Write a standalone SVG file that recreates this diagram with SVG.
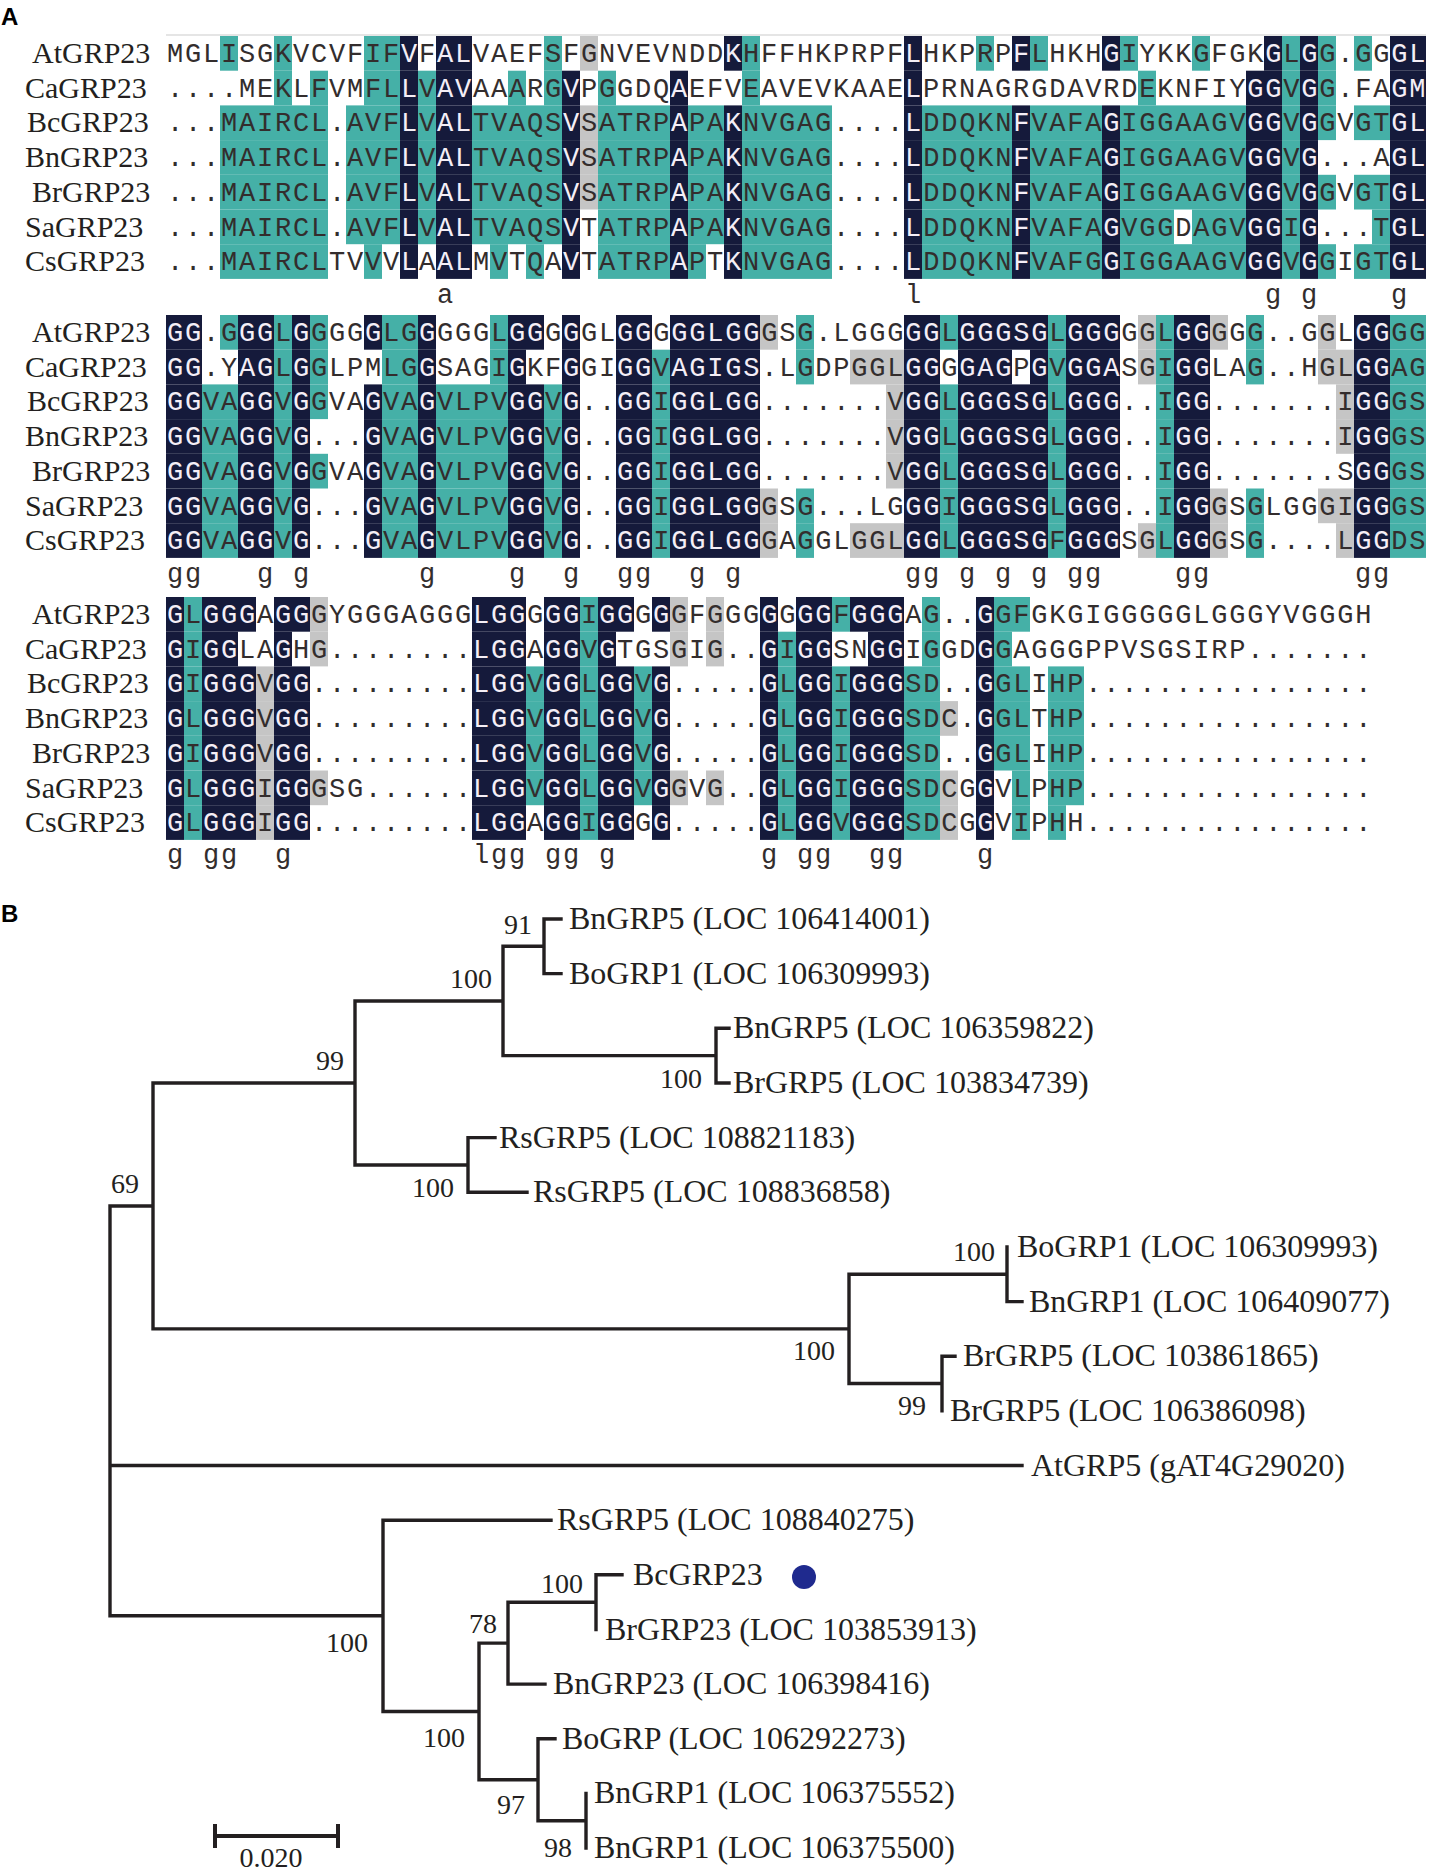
<svg xmlns="http://www.w3.org/2000/svg" width="1437" height="1871" viewBox="0 0 1437 1871">
<style>
.d{fill:#151a3b}.t{fill:#45b0a7}.g{fill:#c5c5c5}
.s{font-family:"Liberation Mono","DejaVu Sans Mono",monospace;font-size:27px;letter-spacing:1.8px;fill:#332d2d}
.l{fill:#f4eef6}
.n{font-family:"Liberation Serif","Times New Roman",serif;font-size:30px;fill:#231f20}
.lb{font-family:"Liberation Serif","Times New Roman",serif;font-size:32px;fill:#231f20}
.bs{font-family:"Liberation Serif","Times New Roman",serif;font-size:28px;fill:#231f20;text-anchor:end}
.pl{font-family:"Liberation Sans",Arial,sans-serif;font-weight:700;font-size:24px;fill:#000}
.br{fill:none;stroke:#231f20;stroke-width:3.4;stroke-linecap:square}
</style>
<rect width="1437" height="1871" fill="#fff"/>
<g id="panel-a">
<text class="pl" x="1" y="25">A</text>
<line x1="166" y1="35" x2="1426" y2="35" stroke="#dddddd" stroke-width="1.5"/>
<g id="block1">
<g id="b1-AtGRP23" transform="translate(0,36)">
<rect class="t" x="220" width="18" height="34.7"/><rect class="t" x="274" width="18" height="34.7"/><rect class="t" x="364" width="36" height="34.7"/><rect class="d" x="400" width="18" height="34.7"/><rect class="d" x="436" width="36" height="34.7"/><rect class="t" x="544" width="18" height="34.7"/><rect class="g" x="580" width="18" height="34.7"/><rect class="d" x="724" width="18" height="34.7"/><rect class="t" x="742" width="18" height="34.7"/><rect class="d" x="904" width="18" height="34.7"/><rect class="t" x="976" width="18" height="34.7"/><rect class="d" x="1012" width="18" height="34.7"/><rect class="t" x="1030" width="18" height="34.7"/><rect class="d" x="1102" width="18" height="34.7"/><rect class="t" x="1120" width="18" height="34.7"/><rect class="t" x="1192" width="18" height="34.7"/><rect class="d" x="1264" width="18" height="34.7"/><rect class="t" x="1282" width="18" height="34.7"/><rect class="d" x="1300" width="18" height="34.7"/><rect class="t" x="1318" width="18" height="34.7"/><rect class="t" x="1354" width="18" height="34.7"/><rect class="d" x="1390" width="36" height="34.7"/>
<text class="n" x="32" y="27">AtGRP23</text>
<text class="s" x="166.9" y="26">MGLISGKVCVFIF<tspan class="l">V</tspan>F<tspan class="l">AL</tspan>VAEFSFGNVEVNDD<tspan class="l">K</tspan>HFFHKPRPF<tspan class="l">L</tspan>HKPRP<tspan class="l">F</tspan>LHKH<tspan class="l">G</tspan>IYKKGFGK<tspan class="l">G</tspan>L<tspan class="l">G</tspan>G.GG<tspan class="l">GL</tspan></text>
</g>
<g id="b1-CaGRP23" transform="translate(0,70.7)">
<rect class="t" x="274" width="18" height="34.7"/><rect class="t" x="310" width="18" height="34.7"/><rect class="t" x="364" width="36" height="34.7"/><rect class="d" x="400" width="18" height="34.7"/><rect class="t" x="418" width="18" height="34.7"/><rect class="d" x="436" width="36" height="34.7"/><rect class="t" x="508" width="18" height="34.7"/><rect class="t" x="544" width="18" height="34.7"/><rect class="d" x="562" width="18" height="34.7"/><rect class="t" x="598" width="18" height="34.7"/><rect class="d" x="670" width="18" height="34.7"/><rect class="t" x="742" width="18" height="34.7"/><rect class="d" x="904" width="18" height="34.7"/><rect class="t" x="1138" width="18" height="34.7"/><rect class="d" x="1246" width="36" height="34.7"/><rect class="t" x="1282" width="18" height="34.7"/><rect class="d" x="1300" width="18" height="34.7"/><rect class="t" x="1318" width="18" height="34.7"/><rect class="d" x="1390" width="36" height="34.7"/>
<text class="n" x="25" y="27">CaGRP23</text>
<text class="s" x="166.9" y="26">....MEKLFVMFL<tspan class="l">L</tspan>V<tspan class="l">AV</tspan>AAARG<tspan class="l">V</tspan>PGGDQ<tspan class="l">A</tspan>EFVEAVEVKAAE<tspan class="l">L</tspan>PRNAGRGDAVRDEKNFIY<tspan class="l">GG</tspan>V<tspan class="l">G</tspan>G.FA<tspan class="l">GM</tspan></text>
</g>
<g id="b1-BcGRP23" transform="translate(0,105.4)">
<rect class="t" x="220" width="108" height="34.7"/><rect class="t" x="346" width="54" height="34.7"/><rect class="d" x="400" width="18" height="34.7"/><rect class="t" x="418" width="18" height="34.7"/><rect class="d" x="436" width="36" height="34.7"/><rect class="t" x="472" width="90" height="34.7"/><rect class="d" x="562" width="18" height="34.7"/><rect class="g" x="580" width="18" height="34.7"/><rect class="t" x="598" width="72" height="34.7"/><rect class="d" x="670" width="18" height="34.7"/><rect class="t" x="688" width="36" height="34.7"/><rect class="d" x="724" width="18" height="34.7"/><rect class="t" x="742" width="90" height="34.7"/><rect class="d" x="904" width="18" height="34.7"/><rect class="t" x="922" width="90" height="34.7"/><rect class="d" x="1012" width="18" height="34.7"/><rect class="t" x="1030" width="72" height="34.7"/><rect class="d" x="1102" width="18" height="34.7"/><rect class="t" x="1120" width="126" height="34.7"/><rect class="d" x="1246" width="36" height="34.7"/><rect class="t" x="1282" width="18" height="34.7"/><rect class="d" x="1300" width="18" height="34.7"/><rect class="t" x="1318" width="18" height="34.7"/><rect class="t" x="1354" width="36" height="34.7"/><rect class="d" x="1390" width="36" height="34.7"/>
<text class="n" x="27" y="27">BcGRP23</text>
<text class="s" x="166.9" y="26">...MAIRCL.AVF<tspan class="l">L</tspan>V<tspan class="l">AL</tspan>TVAQS<tspan class="l">V</tspan>SATRP<tspan class="l">A</tspan>PA<tspan class="l">K</tspan>NVGAG....<tspan class="l">L</tspan>DDQKN<tspan class="l">F</tspan>VAFA<tspan class="l">G</tspan>IGGAAGV<tspan class="l">GG</tspan>V<tspan class="l">G</tspan>GVGT<tspan class="l">GL</tspan></text>
</g>
<g id="b1-BnGRP23" transform="translate(0,140.1)">
<rect class="t" x="220" width="108" height="34.7"/><rect class="t" x="346" width="54" height="34.7"/><rect class="d" x="400" width="18" height="34.7"/><rect class="t" x="418" width="18" height="34.7"/><rect class="d" x="436" width="36" height="34.7"/><rect class="t" x="472" width="90" height="34.7"/><rect class="d" x="562" width="18" height="34.7"/><rect class="g" x="580" width="18" height="34.7"/><rect class="t" x="598" width="72" height="34.7"/><rect class="d" x="670" width="18" height="34.7"/><rect class="t" x="688" width="36" height="34.7"/><rect class="d" x="724" width="18" height="34.7"/><rect class="t" x="742" width="90" height="34.7"/><rect class="d" x="904" width="18" height="34.7"/><rect class="t" x="922" width="90" height="34.7"/><rect class="d" x="1012" width="18" height="34.7"/><rect class="t" x="1030" width="72" height="34.7"/><rect class="d" x="1102" width="18" height="34.7"/><rect class="t" x="1120" width="126" height="34.7"/><rect class="d" x="1246" width="36" height="34.7"/><rect class="t" x="1282" width="18" height="34.7"/><rect class="d" x="1300" width="18" height="34.7"/><rect class="d" x="1390" width="36" height="34.7"/>
<text class="n" x="25" y="27">BnGRP23</text>
<text class="s" x="166.9" y="26">...MAIRCL.AVF<tspan class="l">L</tspan>V<tspan class="l">AL</tspan>TVAQS<tspan class="l">V</tspan>SATRP<tspan class="l">A</tspan>PA<tspan class="l">K</tspan>NVGAG....<tspan class="l">L</tspan>DDQKN<tspan class="l">F</tspan>VAFA<tspan class="l">G</tspan>IGGAAGV<tspan class="l">GG</tspan>V<tspan class="l">G</tspan>...A<tspan class="l">GL</tspan></text>
</g>
<g id="b1-BrGRP23" transform="translate(0,174.8)">
<rect class="t" x="220" width="108" height="34.7"/><rect class="t" x="346" width="54" height="34.7"/><rect class="d" x="400" width="18" height="34.7"/><rect class="t" x="418" width="18" height="34.7"/><rect class="d" x="436" width="36" height="34.7"/><rect class="t" x="472" width="90" height="34.7"/><rect class="d" x="562" width="18" height="34.7"/><rect class="g" x="580" width="18" height="34.7"/><rect class="t" x="598" width="72" height="34.7"/><rect class="d" x="670" width="18" height="34.7"/><rect class="t" x="688" width="36" height="34.7"/><rect class="d" x="724" width="18" height="34.7"/><rect class="t" x="742" width="90" height="34.7"/><rect class="d" x="904" width="18" height="34.7"/><rect class="t" x="922" width="90" height="34.7"/><rect class="d" x="1012" width="18" height="34.7"/><rect class="t" x="1030" width="72" height="34.7"/><rect class="d" x="1102" width="18" height="34.7"/><rect class="t" x="1120" width="126" height="34.7"/><rect class="d" x="1246" width="36" height="34.7"/><rect class="t" x="1282" width="18" height="34.7"/><rect class="d" x="1300" width="18" height="34.7"/><rect class="t" x="1318" width="18" height="34.7"/><rect class="t" x="1354" width="36" height="34.7"/><rect class="d" x="1390" width="36" height="34.7"/>
<text class="n" x="32" y="27">BrGRP23</text>
<text class="s" x="166.9" y="26">...MAIRCL.AVF<tspan class="l">L</tspan>V<tspan class="l">AL</tspan>TVAQS<tspan class="l">V</tspan>SATRP<tspan class="l">A</tspan>PA<tspan class="l">K</tspan>NVGAG....<tspan class="l">L</tspan>DDQKN<tspan class="l">F</tspan>VAFA<tspan class="l">G</tspan>IGGAAGV<tspan class="l">GG</tspan>V<tspan class="l">G</tspan>GVGT<tspan class="l">GL</tspan></text>
</g>
<g id="b1-SaGRP23" transform="translate(0,209.5)">
<rect class="t" x="220" width="108" height="34.7"/><rect class="t" x="346" width="54" height="34.7"/><rect class="d" x="400" width="18" height="34.7"/><rect class="t" x="418" width="18" height="34.7"/><rect class="d" x="436" width="36" height="34.7"/><rect class="t" x="472" width="90" height="34.7"/><rect class="d" x="562" width="18" height="34.7"/><rect class="t" x="598" width="72" height="34.7"/><rect class="d" x="670" width="18" height="34.7"/><rect class="t" x="688" width="36" height="34.7"/><rect class="d" x="724" width="18" height="34.7"/><rect class="t" x="742" width="90" height="34.7"/><rect class="d" x="904" width="18" height="34.7"/><rect class="t" x="922" width="90" height="34.7"/><rect class="d" x="1012" width="18" height="34.7"/><rect class="t" x="1030" width="72" height="34.7"/><rect class="d" x="1102" width="18" height="34.7"/><rect class="t" x="1120" width="54" height="34.7"/><rect class="t" x="1192" width="54" height="34.7"/><rect class="d" x="1246" width="36" height="34.7"/><rect class="t" x="1282" width="18" height="34.7"/><rect class="d" x="1300" width="18" height="34.7"/><rect class="t" x="1372" width="18" height="34.7"/><rect class="d" x="1390" width="36" height="34.7"/>
<text class="n" x="25" y="27">SaGRP23</text>
<text class="s" x="166.9" y="26">...MAIRCL.AVF<tspan class="l">L</tspan>V<tspan class="l">AL</tspan>TVAQS<tspan class="l">V</tspan>TATRP<tspan class="l">A</tspan>PA<tspan class="l">K</tspan>NVGAG....<tspan class="l">L</tspan>DDQKN<tspan class="l">F</tspan>VAFA<tspan class="l">G</tspan>VGGDAGV<tspan class="l">GG</tspan>I<tspan class="l">G</tspan>...T<tspan class="l">GL</tspan></text>
</g>
<g id="b1-CsGRP23" transform="translate(0,244.2)">
<rect class="t" x="220" width="108" height="34.7"/><rect class="t" x="364" width="18" height="34.7"/><rect class="d" x="400" width="18" height="34.7"/><rect class="d" x="436" width="36" height="34.7"/><rect class="t" x="490" width="18" height="34.7"/><rect class="t" x="526" width="18" height="34.7"/><rect class="d" x="562" width="18" height="34.7"/><rect class="t" x="598" width="72" height="34.7"/><rect class="d" x="670" width="18" height="34.7"/><rect class="t" x="688" width="18" height="34.7"/><rect class="d" x="724" width="18" height="34.7"/><rect class="t" x="742" width="90" height="34.7"/><rect class="d" x="904" width="18" height="34.7"/><rect class="t" x="922" width="90" height="34.7"/><rect class="d" x="1012" width="18" height="34.7"/><rect class="t" x="1030" width="72" height="34.7"/><rect class="d" x="1102" width="18" height="34.7"/><rect class="t" x="1120" width="126" height="34.7"/><rect class="d" x="1246" width="36" height="34.7"/><rect class="t" x="1282" width="18" height="34.7"/><rect class="d" x="1300" width="18" height="34.7"/><rect class="t" x="1318" width="18" height="34.7"/><rect class="t" x="1354" width="36" height="34.7"/><rect class="d" x="1390" width="36" height="34.7"/>
<text class="n" x="25" y="27">CsGRP23</text>
<text class="s" x="166.9" y="26">...MAIRCLTVVV<tspan class="l">L</tspan>A<tspan class="l">AL</tspan>MVTQA<tspan class="l">V</tspan>TATRP<tspan class="l">A</tspan>PT<tspan class="l">K</tspan>NVGAG....<tspan class="l">L</tspan>DDQKN<tspan class="l">F</tspan>VAFG<tspan class="l">G</tspan>IGGAAGV<tspan class="l">GG</tspan>V<tspan class="l">G</tspan>GIGT<tspan class="l">GL</tspan></text>
</g>
<text id="b1-consensus" class="s" x="436.9 904.9 1264.9 1300.9 1390.9" y="303">alggg</text>
</g>
<g id="block2">
<g id="b2-AtGRP23" transform="translate(0,315)">
<rect class="d" x="166" width="36" height="34.7"/><rect class="t" x="220" width="18" height="34.7"/><rect class="d" x="238" width="36" height="34.7"/><rect class="t" x="274" width="18" height="34.7"/><rect class="d" x="292" width="18" height="34.7"/><rect class="t" x="310" width="18" height="34.7"/><rect class="d" x="364" width="18" height="34.7"/><rect class="t" x="382" width="36" height="34.7"/><rect class="d" x="418" width="18" height="34.7"/><rect class="t" x="490" width="18" height="34.7"/><rect class="d" x="508" width="36" height="34.7"/><rect class="d" x="562" width="18" height="34.7"/><rect class="d" x="616" width="36" height="34.7"/><rect class="d" x="670" width="90" height="34.7"/><rect class="g" x="760" width="18" height="34.7"/><rect class="t" x="796" width="18" height="34.7"/><rect class="d" x="904" width="36" height="34.7"/><rect class="t" x="940" width="18" height="34.7"/><rect class="d" x="958" width="90" height="34.7"/><rect class="t" x="1048" width="18" height="34.7"/><rect class="d" x="1066" width="54" height="34.7"/><rect class="g" x="1138" width="18" height="34.7"/><rect class="t" x="1156" width="18" height="34.7"/><rect class="d" x="1174" width="36" height="34.7"/><rect class="g" x="1210" width="18" height="34.7"/><rect class="t" x="1246" width="18" height="34.7"/><rect class="g" x="1318" width="18" height="34.7"/><rect class="d" x="1354" width="36" height="34.7"/><rect class="t" x="1390" width="36" height="34.7"/>
<text class="n" x="32" y="27">AtGRP23</text>
<text class="s" x="166.9" y="26"><tspan class="l">GG</tspan>.G<tspan class="l">GG</tspan>L<tspan class="l">G</tspan>GGG<tspan class="l">G</tspan>LG<tspan class="l">G</tspan>GGGL<tspan class="l">GG</tspan>G<tspan class="l">G</tspan>GL<tspan class="l">GG</tspan>G<tspan class="l">GGLGG</tspan>GSG.LGGG<tspan class="l">GG</tspan>L<tspan class="l">GGGSG</tspan>L<tspan class="l">GGG</tspan>GGL<tspan class="l">GG</tspan>GGG..GGL<tspan class="l">GG</tspan>GG</text>
</g>
<g id="b2-CaGRP23" transform="translate(0,349.7)">
<rect class="d" x="166" width="36" height="34.7"/><rect class="d" x="238" width="36" height="34.7"/><rect class="t" x="274" width="18" height="34.7"/><rect class="d" x="292" width="18" height="34.7"/><rect class="t" x="310" width="18" height="34.7"/><rect class="t" x="382" width="36" height="34.7"/><rect class="d" x="418" width="18" height="34.7"/><rect class="t" x="490" width="18" height="34.7"/><rect class="d" x="508" width="18" height="34.7"/><rect class="d" x="562" width="18" height="34.7"/><rect class="d" x="616" width="36" height="34.7"/><rect class="t" x="652" width="18" height="34.7"/><rect class="d" x="670" width="90" height="34.7"/><rect class="t" x="796" width="18" height="34.7"/><rect class="g" x="850" width="54" height="34.7"/><rect class="d" x="904" width="36" height="34.7"/><rect class="d" x="958" width="54" height="34.7"/><rect class="d" x="1030" width="18" height="34.7"/><rect class="t" x="1048" width="18" height="34.7"/><rect class="d" x="1066" width="54" height="34.7"/><rect class="g" x="1138" width="18" height="34.7"/><rect class="t" x="1156" width="18" height="34.7"/><rect class="d" x="1174" width="36" height="34.7"/><rect class="t" x="1246" width="18" height="34.7"/><rect class="g" x="1318" width="36" height="34.7"/><rect class="d" x="1354" width="36" height="34.7"/><rect class="t" x="1390" width="36" height="34.7"/>
<text class="n" x="25" y="27">CaGRP23</text>
<text class="s" x="166.9" y="26"><tspan class="l">GG</tspan>.Y<tspan class="l">AG</tspan>L<tspan class="l">G</tspan>GLPMLG<tspan class="l">G</tspan>SAGI<tspan class="l">G</tspan>KF<tspan class="l">G</tspan>GI<tspan class="l">GG</tspan>V<tspan class="l">AGIGS</tspan>.LGDPGGL<tspan class="l">GG</tspan>G<tspan class="l">GAG</tspan>P<tspan class="l">G</tspan>V<tspan class="l">GGA</tspan>SGI<tspan class="l">GG</tspan>LAG..HGL<tspan class="l">GG</tspan>AG</text>
</g>
<g id="b2-BcGRP23" transform="translate(0,384.4)">
<rect class="d" x="166" width="36" height="34.7"/><rect class="t" x="202" width="36" height="34.7"/><rect class="d" x="238" width="36" height="34.7"/><rect class="t" x="274" width="18" height="34.7"/><rect class="d" x="292" width="18" height="34.7"/><rect class="t" x="310" width="18" height="34.7"/><rect class="d" x="364" width="18" height="34.7"/><rect class="t" x="382" width="36" height="34.7"/><rect class="d" x="418" width="18" height="34.7"/><rect class="t" x="436" width="72" height="34.7"/><rect class="d" x="508" width="36" height="34.7"/><rect class="t" x="544" width="18" height="34.7"/><rect class="d" x="562" width="18" height="34.7"/><rect class="d" x="616" width="36" height="34.7"/><rect class="t" x="652" width="18" height="34.7"/><rect class="d" x="670" width="90" height="34.7"/><rect class="g" x="886" width="18" height="34.7"/><rect class="d" x="904" width="36" height="34.7"/><rect class="t" x="940" width="18" height="34.7"/><rect class="d" x="958" width="90" height="34.7"/><rect class="t" x="1048" width="18" height="34.7"/><rect class="d" x="1066" width="54" height="34.7"/><rect class="t" x="1156" width="18" height="34.7"/><rect class="d" x="1174" width="36" height="34.7"/><rect class="g" x="1336" width="18" height="34.7"/><rect class="d" x="1354" width="36" height="34.7"/><rect class="t" x="1390" width="36" height="34.7"/>
<text class="n" x="27" y="27">BcGRP23</text>
<text class="s" x="166.9" y="26"><tspan class="l">GG</tspan>VA<tspan class="l">GG</tspan>V<tspan class="l">G</tspan>GVA<tspan class="l">G</tspan>VA<tspan class="l">G</tspan>VLPV<tspan class="l">GG</tspan>V<tspan class="l">G</tspan>..<tspan class="l">GG</tspan>I<tspan class="l">GGLGG</tspan>.......V<tspan class="l">GG</tspan>L<tspan class="l">GGGSG</tspan>L<tspan class="l">GGG</tspan>..I<tspan class="l">GG</tspan>.......I<tspan class="l">GG</tspan>GS</text>
</g>
<g id="b2-BnGRP23" transform="translate(0,419.1)">
<rect class="d" x="166" width="36" height="34.7"/><rect class="t" x="202" width="36" height="34.7"/><rect class="d" x="238" width="36" height="34.7"/><rect class="t" x="274" width="18" height="34.7"/><rect class="d" x="292" width="18" height="34.7"/><rect class="d" x="364" width="18" height="34.7"/><rect class="t" x="382" width="36" height="34.7"/><rect class="d" x="418" width="18" height="34.7"/><rect class="t" x="436" width="72" height="34.7"/><rect class="d" x="508" width="36" height="34.7"/><rect class="t" x="544" width="18" height="34.7"/><rect class="d" x="562" width="18" height="34.7"/><rect class="d" x="616" width="36" height="34.7"/><rect class="t" x="652" width="18" height="34.7"/><rect class="d" x="670" width="90" height="34.7"/><rect class="g" x="886" width="18" height="34.7"/><rect class="d" x="904" width="36" height="34.7"/><rect class="t" x="940" width="18" height="34.7"/><rect class="d" x="958" width="90" height="34.7"/><rect class="t" x="1048" width="18" height="34.7"/><rect class="d" x="1066" width="54" height="34.7"/><rect class="t" x="1156" width="18" height="34.7"/><rect class="d" x="1174" width="36" height="34.7"/><rect class="g" x="1336" width="18" height="34.7"/><rect class="d" x="1354" width="36" height="34.7"/><rect class="t" x="1390" width="36" height="34.7"/>
<text class="n" x="25" y="27">BnGRP23</text>
<text class="s" x="166.9" y="26"><tspan class="l">GG</tspan>VA<tspan class="l">GG</tspan>V<tspan class="l">G</tspan>...<tspan class="l">G</tspan>VA<tspan class="l">G</tspan>VLPV<tspan class="l">GG</tspan>V<tspan class="l">G</tspan>..<tspan class="l">GG</tspan>I<tspan class="l">GGLGG</tspan>.......V<tspan class="l">GG</tspan>L<tspan class="l">GGGSG</tspan>L<tspan class="l">GGG</tspan>..I<tspan class="l">GG</tspan>.......I<tspan class="l">GG</tspan>GS</text>
</g>
<g id="b2-BrGRP23" transform="translate(0,453.8)">
<rect class="d" x="166" width="36" height="34.7"/><rect class="t" x="202" width="36" height="34.7"/><rect class="d" x="238" width="36" height="34.7"/><rect class="t" x="274" width="18" height="34.7"/><rect class="d" x="292" width="18" height="34.7"/><rect class="t" x="310" width="18" height="34.7"/><rect class="d" x="364" width="18" height="34.7"/><rect class="t" x="382" width="36" height="34.7"/><rect class="d" x="418" width="18" height="34.7"/><rect class="t" x="436" width="72" height="34.7"/><rect class="d" x="508" width="36" height="34.7"/><rect class="t" x="544" width="18" height="34.7"/><rect class="d" x="562" width="18" height="34.7"/><rect class="d" x="616" width="36" height="34.7"/><rect class="t" x="652" width="18" height="34.7"/><rect class="d" x="670" width="90" height="34.7"/><rect class="g" x="886" width="18" height="34.7"/><rect class="d" x="904" width="36" height="34.7"/><rect class="t" x="940" width="18" height="34.7"/><rect class="d" x="958" width="90" height="34.7"/><rect class="t" x="1048" width="18" height="34.7"/><rect class="d" x="1066" width="54" height="34.7"/><rect class="t" x="1156" width="18" height="34.7"/><rect class="d" x="1174" width="36" height="34.7"/><rect class="d" x="1354" width="36" height="34.7"/><rect class="t" x="1390" width="36" height="34.7"/>
<text class="n" x="32" y="27">BrGRP23</text>
<text class="s" x="166.9" y="26"><tspan class="l">GG</tspan>VA<tspan class="l">GG</tspan>V<tspan class="l">G</tspan>GVA<tspan class="l">G</tspan>VA<tspan class="l">G</tspan>VLPV<tspan class="l">GG</tspan>V<tspan class="l">G</tspan>..<tspan class="l">GG</tspan>I<tspan class="l">GGLGG</tspan>.......V<tspan class="l">GG</tspan>L<tspan class="l">GGGSG</tspan>L<tspan class="l">GGG</tspan>..I<tspan class="l">GG</tspan>.......S<tspan class="l">GG</tspan>GS</text>
</g>
<g id="b2-SaGRP23" transform="translate(0,488.5)">
<rect class="d" x="166" width="36" height="34.7"/><rect class="t" x="202" width="36" height="34.7"/><rect class="d" x="238" width="36" height="34.7"/><rect class="t" x="274" width="18" height="34.7"/><rect class="d" x="292" width="18" height="34.7"/><rect class="d" x="364" width="18" height="34.7"/><rect class="t" x="382" width="36" height="34.7"/><rect class="d" x="418" width="18" height="34.7"/><rect class="t" x="436" width="72" height="34.7"/><rect class="d" x="508" width="36" height="34.7"/><rect class="t" x="544" width="18" height="34.7"/><rect class="d" x="562" width="18" height="34.7"/><rect class="d" x="616" width="36" height="34.7"/><rect class="t" x="652" width="18" height="34.7"/><rect class="d" x="670" width="90" height="34.7"/><rect class="g" x="760" width="18" height="34.7"/><rect class="t" x="796" width="18" height="34.7"/><rect class="d" x="904" width="36" height="34.7"/><rect class="t" x="940" width="18" height="34.7"/><rect class="d" x="958" width="90" height="34.7"/><rect class="t" x="1048" width="18" height="34.7"/><rect class="d" x="1066" width="54" height="34.7"/><rect class="t" x="1156" width="18" height="34.7"/><rect class="d" x="1174" width="36" height="34.7"/><rect class="g" x="1210" width="18" height="34.7"/><rect class="t" x="1246" width="18" height="34.7"/><rect class="g" x="1318" width="36" height="34.7"/><rect class="d" x="1354" width="36" height="34.7"/><rect class="t" x="1390" width="36" height="34.7"/>
<text class="n" x="25" y="27">SaGRP23</text>
<text class="s" x="166.9" y="26"><tspan class="l">GG</tspan>VA<tspan class="l">GG</tspan>V<tspan class="l">G</tspan>...<tspan class="l">G</tspan>VA<tspan class="l">G</tspan>VLPV<tspan class="l">GG</tspan>V<tspan class="l">G</tspan>..<tspan class="l">GG</tspan>I<tspan class="l">GGLGG</tspan>GSG...LG<tspan class="l">GG</tspan>I<tspan class="l">GGGSG</tspan>L<tspan class="l">GGG</tspan>..I<tspan class="l">GG</tspan>GSGLGGGI<tspan class="l">GG</tspan>GS</text>
</g>
<g id="b2-CsGRP23" transform="translate(0,523.2)">
<rect class="d" x="166" width="36" height="34.7"/><rect class="t" x="202" width="36" height="34.7"/><rect class="d" x="238" width="36" height="34.7"/><rect class="t" x="274" width="18" height="34.7"/><rect class="d" x="292" width="18" height="34.7"/><rect class="d" x="364" width="18" height="34.7"/><rect class="t" x="382" width="36" height="34.7"/><rect class="d" x="418" width="18" height="34.7"/><rect class="t" x="436" width="72" height="34.7"/><rect class="d" x="508" width="36" height="34.7"/><rect class="t" x="544" width="18" height="34.7"/><rect class="d" x="562" width="18" height="34.7"/><rect class="d" x="616" width="36" height="34.7"/><rect class="t" x="652" width="18" height="34.7"/><rect class="d" x="670" width="90" height="34.7"/><rect class="g" x="760" width="18" height="34.7"/><rect class="t" x="796" width="18" height="34.7"/><rect class="g" x="850" width="54" height="34.7"/><rect class="d" x="904" width="36" height="34.7"/><rect class="t" x="940" width="18" height="34.7"/><rect class="d" x="958" width="90" height="34.7"/><rect class="t" x="1048" width="18" height="34.7"/><rect class="d" x="1066" width="54" height="34.7"/><rect class="g" x="1138" width="18" height="34.7"/><rect class="t" x="1156" width="18" height="34.7"/><rect class="d" x="1174" width="36" height="34.7"/><rect class="g" x="1210" width="18" height="34.7"/><rect class="t" x="1246" width="18" height="34.7"/><rect class="g" x="1336" width="18" height="34.7"/><rect class="d" x="1354" width="36" height="34.7"/><rect class="t" x="1390" width="36" height="34.7"/>
<text class="n" x="25" y="27">CsGRP23</text>
<text class="s" x="166.9" y="26"><tspan class="l">GG</tspan>VA<tspan class="l">GG</tspan>V<tspan class="l">G</tspan>...<tspan class="l">G</tspan>VA<tspan class="l">G</tspan>VLPV<tspan class="l">GG</tspan>V<tspan class="l">G</tspan>..<tspan class="l">GG</tspan>I<tspan class="l">GGLGG</tspan>GAGGLGGL<tspan class="l">GG</tspan>L<tspan class="l">GGGSG</tspan>F<tspan class="l">GGG</tspan>SGL<tspan class="l">GG</tspan>GSG....L<tspan class="l">GG</tspan>DS</text>
</g>
<text id="b2-consensus" class="s" x="166.9 184.9 256.9 292.9 418.9 508.9 562.9 616.9 634.9 688.9 724.9 904.9 922.9 958.9 994.9 1030.9 1066.9 1084.9 1174.9 1192.9 1354.9 1372.9" y="582">gggggggggggggggggggggg</text>
</g>
<g id="block3">
<g id="b3-AtGRP23" transform="translate(0,597)">
<rect class="d" x="166" width="18" height="34.7"/><rect class="t" x="184" width="18" height="34.7"/><rect class="d" x="202" width="54" height="34.7"/><rect class="d" x="274" width="36" height="34.7"/><rect class="g" x="310" width="18" height="34.7"/><rect class="d" x="472" width="54" height="34.7"/><rect class="d" x="544" width="36" height="34.7"/><rect class="t" x="580" width="18" height="34.7"/><rect class="d" x="598" width="36" height="34.7"/><rect class="d" x="652" width="18" height="34.7"/><rect class="g" x="670" width="18" height="34.7"/><rect class="g" x="706" width="18" height="34.7"/><rect class="d" x="760" width="18" height="34.7"/><rect class="d" x="796" width="36" height="34.7"/><rect class="t" x="832" width="18" height="34.7"/><rect class="d" x="850" width="54" height="34.7"/><rect class="t" x="922" width="18" height="34.7"/><rect class="d" x="976" width="18" height="34.7"/><rect class="t" x="994" width="36" height="34.7"/>
<text class="n" x="32" y="27">AtGRP23</text>
<text class="s" x="166.9" y="26"><tspan class="l">G</tspan>L<tspan class="l">GGG</tspan>A<tspan class="l">GG</tspan>GYGGGAGGG<tspan class="l">LGG</tspan>G<tspan class="l">GG</tspan>I<tspan class="l">GG</tspan>G<tspan class="l">G</tspan>GFGGG<tspan class="l">G</tspan>G<tspan class="l">GG</tspan>F<tspan class="l">GGG</tspan>AG..<tspan class="l">G</tspan>GFGKGIGGGGGLGGGYVGGGH</text>
</g>
<g id="b3-CaGRP23" transform="translate(0,631.7)">
<rect class="d" x="166" width="18" height="34.7"/><rect class="t" x="184" width="18" height="34.7"/><rect class="d" x="202" width="36" height="34.7"/><rect class="d" x="274" width="18" height="34.7"/><rect class="g" x="310" width="18" height="34.7"/><rect class="d" x="472" width="54" height="34.7"/><rect class="d" x="544" width="36" height="34.7"/><rect class="t" x="580" width="18" height="34.7"/><rect class="d" x="598" width="18" height="34.7"/><rect class="g" x="670" width="18" height="34.7"/><rect class="g" x="706" width="18" height="34.7"/><rect class="d" x="760" width="18" height="34.7"/><rect class="t" x="778" width="18" height="34.7"/><rect class="d" x="796" width="36" height="34.7"/><rect class="d" x="868" width="36" height="34.7"/><rect class="t" x="922" width="18" height="34.7"/><rect class="d" x="976" width="18" height="34.7"/><rect class="t" x="994" width="18" height="34.7"/>
<text class="n" x="25" y="27">CaGRP23</text>
<text class="s" x="166.9" y="26"><tspan class="l">G</tspan>I<tspan class="l">GG</tspan>LA<tspan class="l">G</tspan>HG........<tspan class="l">LGG</tspan>A<tspan class="l">GG</tspan>V<tspan class="l">G</tspan>TGSGIG..<tspan class="l">G</tspan>I<tspan class="l">GG</tspan>SN<tspan class="l">GG</tspan>IGGD<tspan class="l">G</tspan>GAGGGPPVSGSIRP.......</text>
</g>
<g id="b3-BcGRP23" transform="translate(0,666.4)">
<rect class="d" x="166" width="18" height="34.7"/><rect class="t" x="184" width="18" height="34.7"/><rect class="d" x="202" width="54" height="34.7"/><rect class="g" x="256" width="18" height="34.7"/><rect class="d" x="274" width="36" height="34.7"/><rect class="d" x="472" width="54" height="34.7"/><rect class="t" x="526" width="18" height="34.7"/><rect class="d" x="544" width="36" height="34.7"/><rect class="t" x="580" width="18" height="34.7"/><rect class="d" x="598" width="36" height="34.7"/><rect class="t" x="634" width="18" height="34.7"/><rect class="d" x="652" width="18" height="34.7"/><rect class="d" x="760" width="18" height="34.7"/><rect class="t" x="778" width="18" height="34.7"/><rect class="d" x="796" width="36" height="34.7"/><rect class="t" x="832" width="18" height="34.7"/><rect class="d" x="850" width="54" height="34.7"/><rect class="t" x="904" width="36" height="34.7"/><rect class="d" x="976" width="18" height="34.7"/><rect class="t" x="994" width="36" height="34.7"/><rect class="t" x="1048" width="36" height="34.7"/>
<text class="n" x="27" y="27">BcGRP23</text>
<text class="s" x="166.9" y="26"><tspan class="l">G</tspan>I<tspan class="l">GGG</tspan>V<tspan class="l">GG</tspan>.........<tspan class="l">LGG</tspan>V<tspan class="l">GG</tspan>L<tspan class="l">GG</tspan>V<tspan class="l">G</tspan>.....<tspan class="l">G</tspan>L<tspan class="l">GG</tspan>I<tspan class="l">GGG</tspan>SD..<tspan class="l">G</tspan>GLIHP................</text>
</g>
<g id="b3-BnGRP23" transform="translate(0,701.1)">
<rect class="d" x="166" width="18" height="34.7"/><rect class="t" x="184" width="18" height="34.7"/><rect class="d" x="202" width="54" height="34.7"/><rect class="g" x="256" width="18" height="34.7"/><rect class="d" x="274" width="36" height="34.7"/><rect class="d" x="472" width="54" height="34.7"/><rect class="t" x="526" width="18" height="34.7"/><rect class="d" x="544" width="36" height="34.7"/><rect class="t" x="580" width="18" height="34.7"/><rect class="d" x="598" width="36" height="34.7"/><rect class="t" x="634" width="18" height="34.7"/><rect class="d" x="652" width="18" height="34.7"/><rect class="d" x="760" width="18" height="34.7"/><rect class="t" x="778" width="18" height="34.7"/><rect class="d" x="796" width="36" height="34.7"/><rect class="t" x="832" width="18" height="34.7"/><rect class="d" x="850" width="54" height="34.7"/><rect class="t" x="904" width="36" height="34.7"/><rect class="g" x="940" width="18" height="34.7"/><rect class="d" x="976" width="18" height="34.7"/><rect class="t" x="994" width="36" height="34.7"/><rect class="t" x="1048" width="36" height="34.7"/>
<text class="n" x="25" y="27">BnGRP23</text>
<text class="s" x="166.9" y="26"><tspan class="l">G</tspan>L<tspan class="l">GGG</tspan>V<tspan class="l">GG</tspan>.........<tspan class="l">LGG</tspan>V<tspan class="l">GG</tspan>L<tspan class="l">GG</tspan>V<tspan class="l">G</tspan>.....<tspan class="l">G</tspan>L<tspan class="l">GG</tspan>I<tspan class="l">GGG</tspan>SDC.<tspan class="l">G</tspan>GLTHP................</text>
</g>
<g id="b3-BrGRP23" transform="translate(0,735.8)">
<rect class="d" x="166" width="18" height="34.7"/><rect class="t" x="184" width="18" height="34.7"/><rect class="d" x="202" width="54" height="34.7"/><rect class="g" x="256" width="18" height="34.7"/><rect class="d" x="274" width="36" height="34.7"/><rect class="d" x="472" width="54" height="34.7"/><rect class="t" x="526" width="18" height="34.7"/><rect class="d" x="544" width="36" height="34.7"/><rect class="t" x="580" width="18" height="34.7"/><rect class="d" x="598" width="36" height="34.7"/><rect class="t" x="634" width="18" height="34.7"/><rect class="d" x="652" width="18" height="34.7"/><rect class="d" x="760" width="18" height="34.7"/><rect class="t" x="778" width="18" height="34.7"/><rect class="d" x="796" width="36" height="34.7"/><rect class="t" x="832" width="18" height="34.7"/><rect class="d" x="850" width="54" height="34.7"/><rect class="t" x="904" width="36" height="34.7"/><rect class="d" x="976" width="18" height="34.7"/><rect class="t" x="994" width="36" height="34.7"/><rect class="t" x="1048" width="36" height="34.7"/>
<text class="n" x="32" y="27">BrGRP23</text>
<text class="s" x="166.9" y="26"><tspan class="l">G</tspan>I<tspan class="l">GGG</tspan>V<tspan class="l">GG</tspan>.........<tspan class="l">LGG</tspan>V<tspan class="l">GG</tspan>L<tspan class="l">GG</tspan>V<tspan class="l">G</tspan>.....<tspan class="l">G</tspan>L<tspan class="l">GG</tspan>I<tspan class="l">GGG</tspan>SD..<tspan class="l">G</tspan>GLIHP................</text>
</g>
<g id="b3-SaGRP23" transform="translate(0,770.5)">
<rect class="d" x="166" width="18" height="34.7"/><rect class="t" x="184" width="18" height="34.7"/><rect class="d" x="202" width="54" height="34.7"/><rect class="g" x="256" width="18" height="34.7"/><rect class="d" x="274" width="36" height="34.7"/><rect class="g" x="310" width="18" height="34.7"/><rect class="d" x="472" width="54" height="34.7"/><rect class="t" x="526" width="18" height="34.7"/><rect class="d" x="544" width="36" height="34.7"/><rect class="t" x="580" width="18" height="34.7"/><rect class="d" x="598" width="36" height="34.7"/><rect class="t" x="634" width="18" height="34.7"/><rect class="d" x="652" width="18" height="34.7"/><rect class="g" x="670" width="18" height="34.7"/><rect class="g" x="706" width="18" height="34.7"/><rect class="d" x="760" width="18" height="34.7"/><rect class="t" x="778" width="18" height="34.7"/><rect class="d" x="796" width="36" height="34.7"/><rect class="t" x="832" width="18" height="34.7"/><rect class="d" x="850" width="54" height="34.7"/><rect class="t" x="904" width="36" height="34.7"/><rect class="g" x="940" width="18" height="34.7"/><rect class="d" x="976" width="18" height="34.7"/><rect class="t" x="1012" width="18" height="34.7"/><rect class="t" x="1048" width="36" height="34.7"/>
<text class="n" x="25" y="27">SaGRP23</text>
<text class="s" x="166.9" y="26"><tspan class="l">G</tspan>L<tspan class="l">GGG</tspan>I<tspan class="l">GG</tspan>GSG......<tspan class="l">LGG</tspan>V<tspan class="l">GG</tspan>L<tspan class="l">GG</tspan>V<tspan class="l">G</tspan>GVG..<tspan class="l">G</tspan>L<tspan class="l">GG</tspan>I<tspan class="l">GGG</tspan>SDCG<tspan class="l">G</tspan>VLPHP................</text>
</g>
<g id="b3-CsGRP23" transform="translate(0,805.2)">
<rect class="d" x="166" width="18" height="34.7"/><rect class="t" x="184" width="18" height="34.7"/><rect class="d" x="202" width="54" height="34.7"/><rect class="g" x="256" width="18" height="34.7"/><rect class="d" x="274" width="36" height="34.7"/><rect class="d" x="472" width="54" height="34.7"/><rect class="d" x="544" width="36" height="34.7"/><rect class="t" x="580" width="18" height="34.7"/><rect class="d" x="598" width="36" height="34.7"/><rect class="d" x="652" width="18" height="34.7"/><rect class="d" x="760" width="18" height="34.7"/><rect class="t" x="778" width="18" height="34.7"/><rect class="d" x="796" width="36" height="34.7"/><rect class="t" x="832" width="18" height="34.7"/><rect class="d" x="850" width="54" height="34.7"/><rect class="t" x="904" width="36" height="34.7"/><rect class="g" x="940" width="18" height="34.7"/><rect class="d" x="976" width="18" height="34.7"/><rect class="t" x="1012" width="18" height="34.7"/><rect class="t" x="1048" width="18" height="34.7"/>
<text class="n" x="25" y="27">CsGRP23</text>
<text class="s" x="166.9" y="26"><tspan class="l">G</tspan>L<tspan class="l">GGG</tspan>I<tspan class="l">GG</tspan>.........<tspan class="l">LGG</tspan>A<tspan class="l">GG</tspan>I<tspan class="l">GG</tspan>G<tspan class="l">G</tspan>.....<tspan class="l">G</tspan>L<tspan class="l">GG</tspan>V<tspan class="l">GGG</tspan>SDCG<tspan class="l">G</tspan>VIPHH................</text>
</g>
<text id="b3-consensus" class="s" x="166.9 202.9 220.9 274.9 472.9 490.9 508.9 544.9 562.9 598.9 760.9 796.9 814.9 868.9 886.9 976.9" y="863">gggglggggggggggg</text>
</g>
</g>
<g id="panel-b">
<text class="pl" x="1" y="922">B</text>
<g id="connectors">
<path class="br" d="M110 1206V1615.8M110 1206H153M110 1465.5H1022M110 1615.8H383M153 1083V1328.9M153 1083H355M153 1328.9H849M355 1001V1165M355 1001H503M355 1165H468M503 946.3V1055.6M503 946.3H544M503 1055.6H716M544 919V973.6M544 919H561M544 973.6H561M716 1028.3V1083M716 1028.3H729M716 1083H729M468 1137.6V1192.3M468 1137.6H495M468 1192.3H527M849 1274.2V1383.5M849 1274.2H1007M849 1383.5H942M1007 1246.9V1301.6M1007 1301.6H1022M942 1356.2V1410.9M942 1356.2H955M383 1520.2V1711.5M383 1520.2H551M383 1711.5H479M479 1643.1V1779.8M479 1643.1H508M479 1779.8H538M508 1602.2V1684.1M508 1602.2H596M508 1684.1H545M596 1574.8V1629.5M596 1574.8H622M538 1738.8V1820.7M538 1738.8H555M538 1820.7H586M586 1793.4V1848"/>
</g>
<g id="leaves">
<g id="leaf-BnGRP5-106414001"><text class="lb" x="569" y="929">BnGRP5 (LOC 106414001)</text></g>
<g id="leaf-BoGRP1-106309993a"><text class="lb" x="569" y="983.6">BoGRP1 (LOC 106309993)</text></g>
<g id="leaf-BnGRP5-106359822"><text class="lb" x="733" y="1038.3">BnGRP5 (LOC 106359822)</text></g>
<g id="leaf-BrGRP5-103834739"><text class="lb" x="733" y="1093">BrGRP5 (LOC 103834739)</text></g>
<g id="leaf-RsGRP5-108821183"><text class="lb" x="499" y="1147.6">RsGRP5 (LOC 108821183)</text></g>
<g id="leaf-RsGRP5-108836858"><text class="lb" x="533" y="1202.3">RsGRP5 (LOC 108836858)</text></g>
<g id="leaf-BoGRP1-106309993b"><text class="lb" x="1017" y="1256.9">BoGRP1 (LOC 106309993)</text></g>
<g id="leaf-BnGRP1-106409077"><text class="lb" x="1029" y="1311.6">BnGRP1 (LOC 106409077)</text></g>
<g id="leaf-BrGRP5-103861865"><text class="lb" x="963" y="1366.2">BrGRP5 (LOC 103861865)</text></g>
<g id="leaf-BrGRP5-106386098"><text class="lb" x="950" y="1420.9">BrGRP5 (LOC 106386098)</text></g>
<g id="leaf-AtGRP5"><text class="lb" x="1031" y="1475.5">AtGRP5 (gAT4G29020)</text></g>
<g id="leaf-RsGRP5-108840275"><text class="lb" x="557" y="1530.2">RsGRP5 (LOC 108840275)</text></g>
<g id="leaf-BcGRP23"><text class="lb" x="633" y="1584.8">BcGRP23</text><circle cx="804" cy="1577" r="12" fill="#1f2a8e"/></g>
<g id="leaf-BrGRP23"><text class="lb" x="605" y="1639.5">BrGRP23 (LOC 103853913)</text></g>
<g id="leaf-BnGRP23"><text class="lb" x="553" y="1694.1">BnGRP23 (LOC 106398416)</text></g>
<g id="leaf-BoGRP"><text class="lb" x="562" y="1748.8">BoGRP (LOC 106292273)</text></g>
<g id="leaf-BnGRP1-106375552"><text class="lb" x="594" y="1803.4">BnGRP1 (LOC 106375552)</text></g>
<g id="leaf-BnGRP1-106375500"><text class="lb" x="594" y="1858">BnGRP1 (LOC 106375500)</text></g>
</g>
<g id="bootstrap">
<text class="bs" x="532" y="934">91</text>
<text class="bs" x="492" y="988">100</text>
<text class="bs" x="344" y="1070">99</text>
<text class="bs" x="702" y="1088">100</text>
<text class="bs" x="454" y="1197">100</text>
<text class="bs" x="139" y="1193">69</text>
<text class="bs" x="995" y="1261">100</text>
<text class="bs" x="835" y="1360">100</text>
<text class="bs" x="926" y="1415">99</text>
<text class="bs" x="583" y="1593">100</text>
<text class="bs" x="497" y="1633">78</text>
<text class="bs" x="368" y="1652">100</text>
<text class="bs" x="465" y="1747">100</text>
<text class="bs" x="525" y="1814">97</text>
<text class="bs" x="572" y="1857">98</text>
</g>
<g id="scale-bar">
<path d="M215 1836H338M215 1824V1848M338 1824V1848" fill="none" stroke="#231f20" stroke-width="4"/>
<text class="lb" x="271" y="1867" text-anchor="middle" style="font-size:28px">0.020</text>
</g>
</g>
</svg>
